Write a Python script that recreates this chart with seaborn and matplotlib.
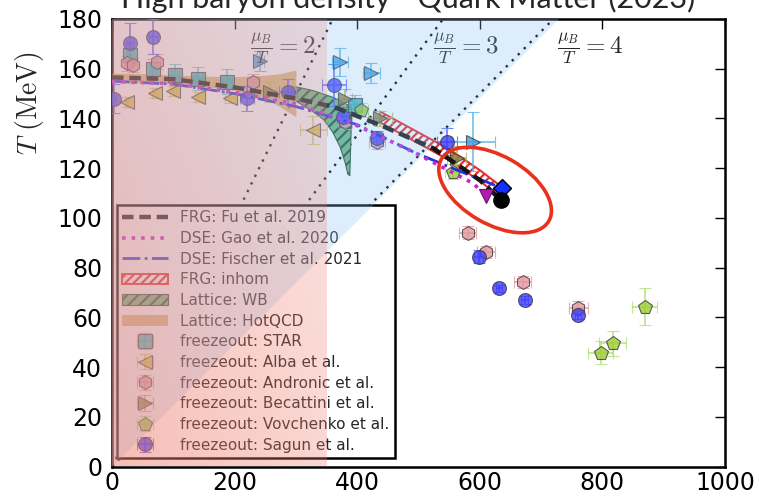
import numpy as np
import matplotlib
matplotlib.use("Agg")
import matplotlib.pyplot as plt
import seaborn as sns
from matplotlib.patches import Ellipse, Patch, Polygon
from matplotlib.lines import Line2D
from matplotlib.transforms import ScaledTranslation

# ---------------- phase boundaries (mu_B, T) in MeV ----------------
fu_mu = [0, 100, 200, 300, 361, 437, 524, 600, 635]
fu_T = [156.5, 155.8, 152.5, 148.0, 144.7, 137.4, 128.0, 115.2, 107.0]

gao_mu = [0, 100, 200, 300, 383, 492, 589, 610]
gao_T = [154.8, 154.0, 150.5, 145.8, 139.0, 126.5, 113.9, 109.0]

fischer_mu = [0, 100, 200, 300, 400, 492, 560, 636]
fischer_T = [155.0, 153.8, 150.0, 144.8, 137.5, 126.5, 119.5, 112.0]

inhom_mu = [437, 490, 551, 600, 640]
inhom_hi = [142.8, 135.7, 127.5, 119.2, 111.7]
inhom_lo = [138.4, 131.3, 123.1, 114.8, 107.3]

wb_mu = [293, 310, 328, 345, 360, 372, 380, 385, 388, 391]
wb_hi = [153.0, 152.2, 151.2, 149.8, 148.5, 147.2, 146.0, 145.3, 144.8, 144.3]
wb_lo = [148.0, 145.5, 142.7, 139.6, 134.5, 128.6, 122.5, 117.5, 117.0, 143.0]

hq_mu = [0, 50, 100, 150, 200, 250, 274, 300]
hq_hi = [158.2, 158.0, 157.5, 157.0, 156.8, 157.4, 158.0, 159.5]
hq_lo = [154.6, 154.3, 153.8, 152.8, 151.3, 148.0, 144.7, 140.7]

# critical end points
cep_fu = (635, 107)
cep_gao = (610, 109)
cep_fischer = (636, 112)

# ---------------- chemical freeze-out points ----------------
star_mu = [29, 67, 103, 141, 187, 396]
star_T = [165.4, 160.0, 157.5, 156.0, 154.8, 145.4]
star_dmu = [4, 5, 6, 7, 8, 10]
star_dT = [4.0, 4.0, 4.5, 4.5, 5.0, 4.0]

alba_mu = [24, 70, 100, 141, 192, 328]
alba_T = [146.7, 150.1, 151.2, 148.5, 148.1, 135.4]
alba_dmu = [3, 4, 5, 6, 8, 22]
alba_dT = [2, 2, 2, 2, 2, 5.5]

andr_mu = [24, 35, 73, 230, 380, 432, 580, 610, 670, 761]
andr_T = [162.2, 161.5, 162.8, 154.8, 138.6, 130.7, 94.1, 86.2, 74.1, 63.9]
andr_dmu = [5, 5, 6, 10, 12, 13, 14, 14, 14, 16]
andr_dT = [3, 3, 3, 3, 3, 3, 2.5, 2.5, 2.5, 2.5]

becat_mu = [258, 380, 437, 562]
becat_T = [150.8, 148.0, 140.0, 124.0]
becat_dmu = [10, 12, 19, 16]
becat_dT = [4, 4, 3, 5]

vovch_mu = [407, 556, 797, 817, 869]
vovch_T = [143.4, 118.6, 45.8, 49.6, 64.3]
vovch_dmu = [10, 12, 20, 22, 20]
vovch_dT = [3, 3, 4.5, 5, 7.4]

sagun_mu = [3, 29, 67, 220, 287, 362, 377, 432, 546, 598, 631, 673, 760]
sagun_T = [148.0, 170.2, 172.9, 148.1, 150.8, 153.5, 140.7, 132.0, 130.7, 84.4, 71.7, 67.0, 61.0]
sagun_dmu = [4, 6, 6, 12, 14, 20, 10, 10, 16, 7, 5, 5, 5]
sagun_dT = [6, 8, 7, 5, 5, 8.5, 4, 3, 5.4, 2.5, 1.5, 1.5, 1.5]

extra_mu = [242, 372, 423, 589]
extra_T = [163.0, 162.8, 158.2, 130.7]
extra_dmu = [6, 13, 14, 35]
extra_dT = [4, 5.7, 4, 12]

ratios = [2, 3, 4]
x_ticks = [0, 200, 400, 600, 800, 1000]
y_ticks = list(range(0, 181, 20))

# ---------------- style ----------------
sns.set_theme(style="white")
plt.rcParams.update({
    "font.family": ["DejaVu Sans"],
    "mathtext.fontset": "cm",
    "hatch.linewidth": 1.6,
    "axes.edgecolor": "black",
    "axes.linewidth": 1.8,
    "xtick.direction": "in",
    "ytick.direction": "in",
})

fig = plt.figure(figsize=(7.59, 4.98), dpi=100)
ax = fig.add_axes([112 / 759, 31.5 / 498, 613 / 759, 447.5 / 498])
ax.set_facecolor("white")

# mu_B/T = const guide lines
for r in ratios:
    ax.plot([0, r * 180], [0, 180], color="black", lw=1.7,
            ls=(0, (1, 2.6)), zorder=1.5)

# lattice bands
ax.fill_between(wb_mu, wb_lo, wb_hi, facecolor="#6cba82", edgecolor="#2f5236",
                hatch="///", lw=0.8, zorder=2)
ax.fill_between(hq_mu, hq_lo, hq_hi, color="#d6a452", alpha=0.75, lw=0, zorder=3)
# FRG inhomogeneous region
ax.fill_between(inhom_mu, inhom_lo, inhom_hi, facecolor="white",
                edgecolor="#e52a2a", hatch="////", lw=1.4, zorder=3.5)

# freeze-out data
def freezeout(mu, T, dmu, dT, marker, face, ecol, label, ms=10):
    return ax.errorbar(mu, T, xerr=dmu, yerr=dT, fmt=marker, ms=ms, mfc=face,
                       mec="#3a3a3a", mew=0.8, ecolor=ecol, elinewidth=1.3,
                       capsize=4, capthick=1.3, alpha=0.8, label=label, zorder=4)

eb_star = freezeout(star_mu, star_T, star_dmu, star_dT, "s", "#2aaeb4", "#5cc6dc", "freezeout: STAR", ms=9.5)
eb_alba = freezeout(alba_mu, alba_T, alba_dmu, alba_dT, "<", "#d8c22c", "#d2cc5e", "freezeout: Alba et al.")
eb_andr = freezeout(andr_mu, andr_T, andr_dmu, andr_dT, "h", "#e3979f", "#e89aa2", "freezeout: Andronic et al.")
eb_becat = freezeout(becat_mu, becat_T, becat_dmu, becat_dT, ">", "#8c7a3a", "#b8b45a", "freezeout: Becattini et al.")
eb_vovch = freezeout(vovch_mu, vovch_T, vovch_dmu, vovch_dT, "p", "#9acd32", "#b4e07a", "freezeout: Vovchenko et al.")
eb_sagun = freezeout(sagun_mu, sagun_T, sagun_dmu, sagun_dT, "o", "#3c3cff", "#5a5aff", "freezeout: Sagun et al.")
freezeout(extra_mu, extra_T, extra_dmu, extra_dT, ">", "#3a9ee0", "#5ab4ea", None)

# phase boundary curves
sns.lineplot(x=fu_mu, y=fu_T, ax=ax, color="#141414", lw=3.2, zorder=7)
ax.lines[-1].set_dashes([2.6, 1.3])
sns.lineplot(x=gao_mu, y=gao_T, ax=ax, color="#cc22cc", lw=2.6, ls=":", zorder=7)
sns.lineplot(x=fischer_mu, y=fischer_T, ax=ax, color="#2233dd", lw=2.0, ls="-.", zorder=6.5)

# critical end points
ax.plot(*cep_gao, marker="v", ms=10, color="#b01cb0", mec="#6a106a", mew=0.8, zorder=9)
ax.plot(*cep_fischer, marker="D", ms=9, color="#1030ff", mec="black", mew=1.0, zorder=9)
ax.plot(*cep_fu, marker="o", ms=11, color="black", zorder=9.5)

# labels of the mu_B/T lines
for r, xm in zip(ratios, [279, 578, 780]):
    ax.text(xm, 168.3, r"$\frac{\mu_B}{T}=%d$" % r, fontsize=18,
            ha="center", va="center", zorder=8)

ax.set_xlim(0, 1000)
ax.set_ylim(0, 180)
ax.set_xticks(x_ticks)
ax.set_yticks(y_ticks)
ax.tick_params(axis="both", which="both", direction="in", length=7, width=1.0,
               top=True, right=True, labelsize=17, color="black", labelcolor="black")
ax.tick_params(axis="y", pad=7)
ax.tick_params(axis="x", pad=3)
ax.set_xlabel("")
ax.set_ylabel("")
for s in ax.spines.values():
    s.set_visible(True)
    s.set_color("black")
    s.set_linewidth(1.8)

# legend
handles = [
    Line2D([], [], color="#141414", lw=3.2, dashes=[2.6, 1.3]),
    Line2D([], [], color="#cc22cc", lw=2.6, ls=":"),
    Line2D([], [], color="#2233dd", lw=2.0, ls="-."),
    Patch(facecolor="white", edgecolor="#e52a2a", hatch="////", lw=1.4),
    Patch(facecolor="#6cba82", edgecolor="#2f5236", hatch="///", lw=0.8),
    Patch(facecolor="#d6a452", edgecolor="none", alpha=0.75),
    eb_star, eb_alba, eb_andr, eb_becat, eb_vovch, eb_sagun,
]
labels = [
    "FRG: Fu et al. 2019", "DSE: Gao et al. 2020", "DSE: Fischer et al. 2021",
    "FRG: inhom", "Lattice: WB", "Lattice: HotQCD",
    "freezeout: STAR", "freezeout: Alba et al.", "freezeout: Andronic et al.",
    "freezeout: Becattini et al.", "freezeout: Vovchenko et al.", "freezeout: Sagun et al.",
]
leg = ax.legend(handles, labels, loc="lower left", bbox_to_anchor=(0.0077, 0.019),
                borderaxespad=0, fontsize=11, labelspacing=0.37, handlelength=3.0,
                handletextpad=0.8, borderpad=0.35, frameon=True, fancybox=False,
                framealpha=1, edgecolor="black", facecolor="white")
leg.get_frame().set_linewidth(1.8)
leg.set_zorder(10)

# shaded regions laid over the plot
ax.add_patch(Polygon([(0, 0), (0, 180), (4.05 * 180, 180)], closed=True,
                     facecolor=(0.52, 0.75, 0.95), alpha=0.28, edgecolor="none", zorder=20))
ny, nx = 64, 256
fx = np.linspace(0, 1, nx)[None, :]
fy = np.linspace(0, 1, ny)[:, None]
grad = np.zeros((ny, nx, 4))
grad[..., 0] = 0.94
grad[..., 1] = 0.50
grad[..., 2] = 0.44
grad[..., 3] = (0.36 + 0.16 * (1 - fy)) * (1 - 0.4 * fx)
ax.imshow(grad, extent=[0, 350, 0, 180], origin="lower", aspect="auto",
          zorder=21, interpolation="bilinear")
ax.set_xlim(0, 1000)
ax.set_ylim(0, 180)

# highlight around the critical end points
ell_trans = fig.dpi_scale_trans + ScaledTranslation(625, 111.2, ax.transData)
ax.add_patch(Ellipse((0, 0), 1.24, 0.68, angle=-30, fill=False,
                     edgecolor="#e8321e", lw=2.6, transform=ell_trans, zorder=30,
                     clip_on=False))

fig.text(30 / 759, 1 - 103 / 498, r"$T\ (\mathrm{MeV})$", rotation=90,
         fontsize=20, ha="center", va="center")
fig.text(408 / 759, 1 - 8 / 498, "High baryon density - Quark Matter (2023)",
         ha="center", va="baseline", fontsize=22, family=["Lato", "DejaVu Sans"])

fig.savefig("out.png", dpi=100)
